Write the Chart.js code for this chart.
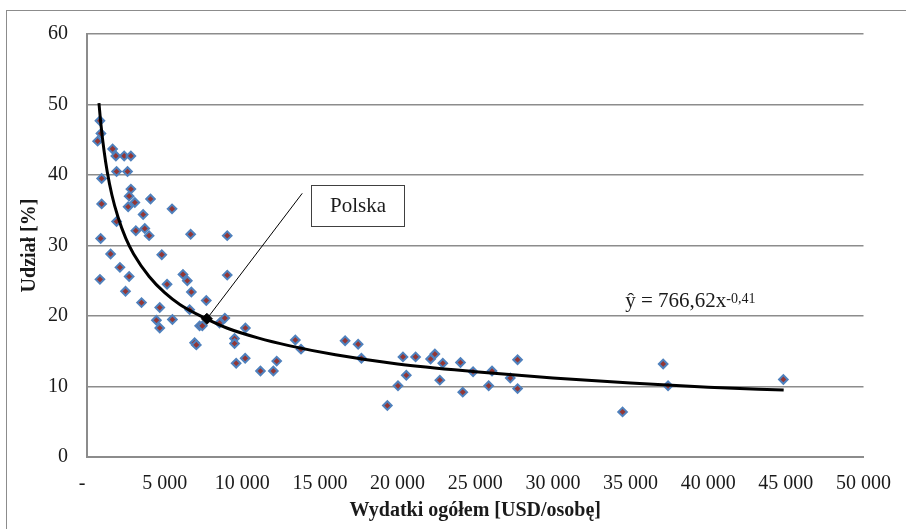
<!DOCTYPE html>
<html lang="pl">
<head>
  <meta charset="UTF-8" />
  <title>Udział a wydatki ogółem</title>
  <script src="https://cdn.jsdelivr.net/npm/chart.js"></script>
  <style>
    html, body {
      margin: 0;
      padding: 0;
      background: #fff;
      overflow: hidden;
    }

    #wrap {
      position: relative;
      width: 906px;
      height: 529px;
      overflow: hidden;
    }

    #frame {
      position: absolute;
      left: 6px;
      top: 10px;
      width: 1000px;
      height: 1000px;
      border: 1px solid #8c8c8c;
    }

    canvas {
      position: absolute;
      left: 0;
      top: 0;
    }
  </style>
</head>
<body>

  <div id="wrap">
    <div id="frame"></div>
    <canvas id="shareChart" width="906" height="529"></canvas>
  </div>

  <script>
    // countries: total expenditure [USD/person] vs share [%]
    const spending = [
      834, 898, 685, 1650, 1860, 2395, 2825, 1905, 2610, 943,
      2825, 2715, 4090, 3080, 2650, 943, 5475, 3615, 1905, 3145,
      3720, 4000, 6675, 9030, 880, 1520, 4815, 2120, 834, 2715,
      6180, 9030, 6460, 5155, 2480, 6720, 3510, 4685, 6610, 7680,
      4470, 4685, 5500, 6930, 7040, 7250, 7425, 8535, 8875, 10200,
      9500, 9500, 9605, 10185, 11170, 12000, 12215, 13415, 13780, 16620,
      17460, 17670, 19340, 20025, 20345, 20560, 21160, 22125, 22400, 22910,
      22720, 24050, 24195, 24860, 25865, 26080, 27255, 27725, 27725, 34485,
      37100, 37415, 44840
    ];

    const share = [
      47.7, 45.9, 44.8, 43.7, 42.7, 42.7, 42.7, 40.5, 40.5, 39.5,
      38.0, 37.0, 36.6, 36.1, 35.5, 35.9, 35.2, 34.4, 33.4, 32.1,
      32.4, 31.4, 31.6, 31.4, 31.0, 28.8, 28.7, 26.9, 25.2, 25.6,
      25.9, 25.8, 25.0, 24.5, 23.5, 23.4, 21.9, 21.2, 20.9, 22.2,
      19.4, 18.3, 19.5, 16.2, 15.9, 18.6, 18.6, 19.0, 19.7, 18.3,
      16.8, 16.1, 13.3, 14.0, 12.2, 12.2, 13.6, 16.6, 15.3, 16.5,
      16.0, 14.0, 7.3, 10.1, 14.2, 11.6, 14.2, 13.9, 14.6, 13.3,
      10.9, 13.4, 9.2, 12.1, 10.1, 12.2, 11.2, 13.8, 9.7, 6.4,
      13.2, 10.1, 11.0
    ];

    const polskaX = 7720;
    const polskaY = 19.6;

    // power trendline (ŷ = 766,62x^-0,41)
    const trendX = [770, 900, 1100, 1300, 1600, 2000, 2500, 3000, 4000, 5000, 6000,
                    7500, 9000, 11000, 13000, 16000, 20000, 25000, 30000, 35000, 40000, 44860];
    const trendY = [50.2, 47.1, 43.4, 40.5, 37.2, 34.0, 31.0, 28.8, 25.6, 23.3, 21.6,
                    19.8, 18.3, 16.9, 15.8, 14.5, 13.2, 12.1, 11.2, 10.5, 9.9, 9.5];

    const xTicks = [0, 5000, 10000, 15000, 20000, 25000, 30000, 35000, 40000, 45000, 50000];
    const yTicks = [0, 10, 20, 30, 40, 50, 60];

    const equationText = 'ŷ = 766,62x';
    const equationExp = '-0,41';
    const labelText = 'Polska';

    const serif = "'Liberation Serif', 'Times New Roman', serif";
    const gridGray = '#8c8c8c';

    function fmtThousands(v) {
      if (v === 0) return '-\u2002';
      return String(v).replace(/\B(?=(\d{3})+(?!\d))/g, ' ');
    }

    const points = spending.map((x, i) => ({ x: x, y: share[i] }));
    const trend = trendX.map((x, i) => ({ x: x, y: trendY[i] }));

    // label box + connector + equation, placed in data units
    const notes = {
      id: 'notes',
      afterDatasetsDraw(chart) {
        const { ctx, scales: { x, y } } = chart;
        ctx.save();

        // connector
        ctx.strokeStyle = '#000';
        ctx.lineWidth = 1;
        ctx.beginPath();
        ctx.moveTo(x.getPixelForValue(polskaX), y.getPixelForValue(polskaY));
        ctx.lineTo(x.getPixelForValue(13860), y.getPixelForValue(37.4));
        ctx.stroke();

        // box
        const bx0 = Math.round(x.getPixelForValue(14440)) + 0.5;
        const bx1 = Math.round(x.getPixelForValue(20410)) + 0.5;
        const by0 = Math.round(y.getPixelForValue(38.6)) + 0.5;
        const by1 = Math.round(y.getPixelForValue(32.8)) + 0.5;
        ctx.fillStyle = '#fff';
        ctx.fillRect(bx0, by0, bx1 - bx0, by1 - by0);
        ctx.strokeStyle = '#404040';
        ctx.strokeRect(bx0, by0, bx1 - bx0, by1 - by0);

        ctx.fillStyle = '#1a1a1a';
        ctx.font = '21px ' + serif;
        ctx.textAlign = 'center';
        ctx.textBaseline = 'middle';
        ctx.fillText(labelText, (bx0 + bx1) / 2, (by0 + by1) / 2);

        // equation
        const ex = x.getPixelForValue(34660);
        const ey = y.getPixelForValue(21.3);
        ctx.textAlign = 'left';
        ctx.textBaseline = 'alphabetic';
        ctx.font = '21px ' + serif;
        ctx.fillText(equationText, ex, ey);
        const w = ctx.measureText(equationText).width;
        ctx.font = '14px ' + serif;
        ctx.fillText(equationExp, ex + w, ey - 4);

        ctx.restore();
      }
    };

    const ctx = document.getElementById('shareChart').getContext('2d');
    const chart = new Chart(ctx, {
      type: 'scatter',
      data: {
        datasets: [
          {
            label: 'Polska',
            data: [{ x: polskaX, y: polskaY }],
            pointStyle: 'rectRot',
            pointRadius: 5.5,
            backgroundColor: '#000',
            borderColor: '#000',
            borderWidth: 1,
            order: 0
          },
          {
            label: 'Trend',
            data: trend,
            showLine: true,
            borderColor: '#000',
            borderWidth: 3,
            pointRadius: 0,
            cubicInterpolationMode: 'monotone',
            order: 1
          },
          {
            label: 'Kraje',
            data: points,
            pointStyle: 'rectRot',
            pointRadius: 4.3,
            backgroundColor: '#943634',
            borderColor: '#4f81bd',
            borderWidth: 2,
            order: 2
          }
        ]
      },
      options: {
        responsive: false,
        animation: false,
        devicePixelRatio: 1,
        layout: {
          padding: { left: 0, top: 34, right: 40, bottom: 0 }
        },
        plugins: {
          legend: { display: false },
          tooltip: { enabled: false }
        },
        scales: {
          x: {
            type: 'linear',
            min: 0,
            max: 50000,
            afterBuildTicks: (scale) => { scale.ticks = xTicks.map(v => ({ value: v })); },
            afterFit: (scale) => { scale.height = 72; },
            grid: { display: false, drawTicks: false },
            border: { display: true, color: gridGray, width: 2 },
            ticks: {
              padding: 15,
              maxRotation: 0,
              autoSkip: false,
              color: '#1a1a1a',
              font: { family: serif, size: 20 },
              callback: (v) => fmtThousands(v)
            },
            title: {
              display: true,
              text: 'Wydatki ogółem [USD/osobę]',
              color: '#1a1a1a',
              font: { family: serif, size: 20, weight: 'bold' },
              padding: { top: 0, bottom: 6 }
            }
          },
          y: {
            type: 'linear',
            min: 0,
            max: 60,
            afterBuildTicks: (scale) => { scale.ticks = yTicks.map(v => ({ value: v })); },
            afterFit: (scale) => { scale.width = 87; },
            grid: { color: gridGray, lineWidth: 1.5, drawTicks: false },
            border: { display: true, color: gridGray, width: 2 },
            ticks: {
              padding: 19,
              color: '#1a1a1a',
              font: { family: serif, size: 20 }
            },
            title: {
              display: true,
              text: 'Udział [%]',
              color: '#1a1a1a',
              font: { family: serif, size: 20, weight: 'bold' },
              padding: { top: 18, bottom: 0 }
            }
          }
        }
      },
      plugins: [notes]
    });
  </script>

</body>
</html>
